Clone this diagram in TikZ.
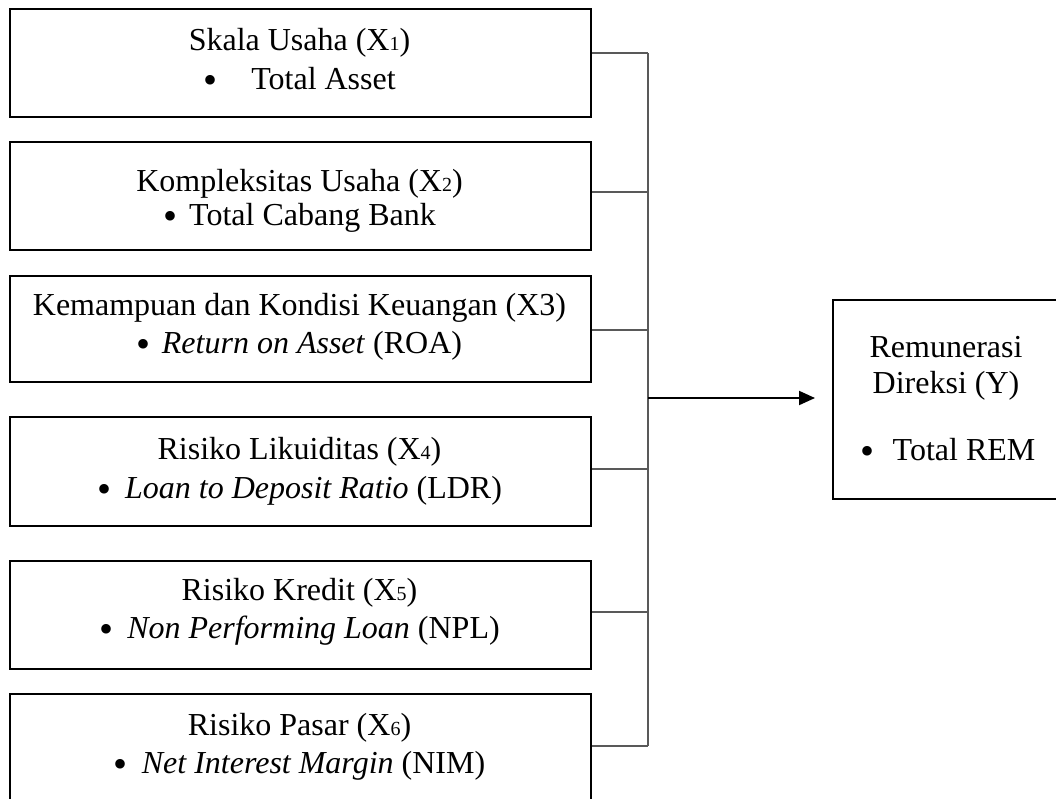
\documentclass[tikz,border=0pt]{standalone}
\usepackage{fontspec}
\setmainfont{Liberation Serif}
\usetikzlibrary{arrows.meta}
\newcommand{\smallidx}[1]{{\fontsize{20}{20}\selectfont #1}}
\newcommand{\bul}[1]{\raisebox{-4pt}{\fontsize{40}{40}\selectfont\textbullet}\hspace{#1}}
\begin{document}
\begin{tikzpicture}[x=1pt,y=1pt,
  box/.style={draw=black,line width=2pt,anchor=north west,inner sep=0pt,minimum width=581pt},
  lbl/.style={anchor=base,inner sep=0pt,font=\fontsize{32}{37}\selectfont},
  conn/.style={draw=black!65,line width=1.2pt},
  spine/.style={draw=black!65,line width=1.6pt},
  arr/.style={draw=black,line width=2pt,-{Triangle[length=16pt,width=14pt]}}]
\useasboundingbox (0,0) rectangle (1056,-798);
% left boxes
\node[box,minimum height=108pt] (b1) at (9,-8) {};
\node[box,minimum height=108pt] (b2) at (9,-141) {};
\node[box,minimum height=106pt] (b3) at (9,-275) {};
\node[box,minimum height=109pt] (b4) at (9,-416) {};
\node[box,minimum height=108pt] (b5) at (9,-560) {};
\node[box,minimum height=120pt] (b6) at (9,-693) {};
% right box
\node[box,minimum width=226pt,minimum height=199pt] (y) at (832,-299) {};
% texts
\node[lbl] (t1a) at (299.5,-50) {Skala Usaha (X\smallidx{1})};
\node[lbl] (t1b) at (299.5,-89) {\bul{34pt}Total Asset};
\node[lbl] (t2a) at (299.5,-191) {Kompleksitas Usaha (X\smallidx{2})};
\node[lbl] (t2b) at (299.5,-225) {\bul{12pt}Total Cabang Bank};
\node[lbl] (t3a) at (299.5,-315) {Kemampuan dan Kondisi Keuangan (X3)};
\node[lbl] (t3b) at (299.5,-353) {\bul{11pt}\textit{Return on Asset} (ROA)};
\node[lbl] (t4a) at (299.5,-459) {Risiko Likuiditas (X\smallidx{4})};
\node[lbl] (t4b) at (299.5,-498) {\bul{14pt}\textit{Loan to Deposit Ratio} (LDR)};
\node[lbl] (t5a) at (299.5,-600) {Risiko Kredit (X\smallidx{5})};
\node[lbl] (t5b) at (299.5,-638) {\bul{14pt}\textit{Non Performing Loan} (NPL)};
\node[lbl] (t6a) at (299.5,-735) {Risiko Pasar (X\smallidx{6})};
\node[lbl] (t6b) at (299.5,-773) {\bul{14pt}\textit{Net Interest Margin} (NIM)};
\node[lbl] (tya) at (946,-357) {Remunerasi};
\node[lbl] (tyb) at (946,-393) {Direksi (Y)};
\node[lbl] (tyc) at (948,-460) {\bul{18pt}Total REM};
% junctions
\coordinate (j1) at (648,-53);
\coordinate (j2) at (648,-192);
\coordinate (j3) at (648,-330);
\coordinate (j4) at (648,-469);
\coordinate (j5) at (648,-612);
\coordinate (j6) at (648,-746);
\coordinate (ja) at (648,-398);
\draw[conn] (j1 -| b1.east) -- (j1);
\draw[conn] (j2 -| b2.east) -- (j2);
\draw[conn] (j3 -| b3.east) -- (j3);
\draw[conn] (j4 -| b4.east) -- (j4);
\draw[conn] (j5 -| b5.east) -- (j5);
\draw[conn] (j6 -| b6.east) -- (j6);
\draw[spine] (j1) -- (j6);
\draw[arr,shorten >=17pt] (ja) -- (ja -| y.west);
\end{tikzpicture}
\end{document}
